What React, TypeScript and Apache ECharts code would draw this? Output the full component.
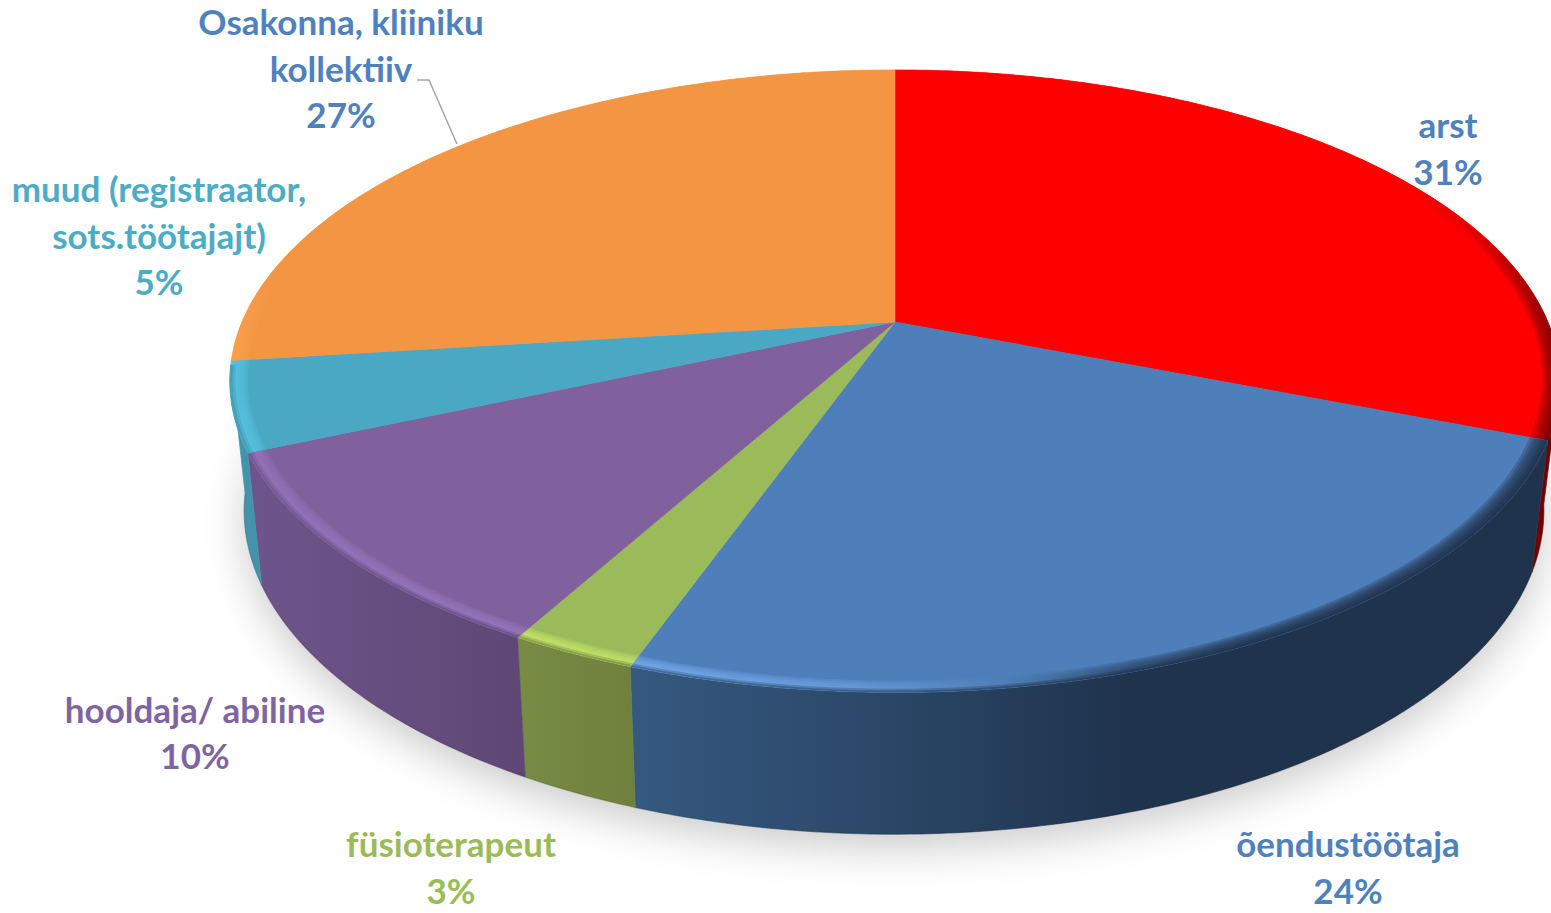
import React, { useEffect, useRef } from "react";
import * as echarts from "echarts";

// Data
const categories = ["arst", "õendustöötaja", "füsioterapeut", "hooldaja/ abiline", "muud (registraator,\nsots.töötajajt)", "Osakonna, kliiniku\nkollektiiv"];
const shares = [31, 24.4, 2.6, 10.4, 4.6, 27];

// Styles
const topColors = ["#FF0000", "#4E7FBB", "#9BBA59", "#80619D", "#4AA8C4", "#F49543"];
const labelColors = ["#4F81BD", "#4F81BD", "#9BBB59", "#8064A2", "#4BACC6", "#4F81BD"];
type Stop = [number, string];
const wallStops: (Stop[] | null)[] = [
  [[1500, "#800000"], [1551, "#700000"]],
  [[630, "#35597f"], [900, "#2a4666"], [1130, "#1f334d"], [1551, "#1f334d"]],
  [[525, "#778b43"], [640, "#6f803d"]],
  [[262, "#6d548a"], [530, "#5e4775"]],
  [[230, "#4394aa"], [265, "#4394aa"]],
  null,
];
const rimStops: Stop[][] = [
  [[1400, "#FF0000"], [1480, "#d80000"], [1551, "#800000"]],
  [[630, "#76adf0"], [850, "#6a9ede"], [1000, "#4f80b8"], [1130, "#2a4668"], [1220, "#1f334d"], [1551, "#1f334d"]],
  [[520, "#c6e86a"], [640, "#c2e468"]],
  [[250, "#9475bc"], [530, "#9878c2"]],
  [[230, "#55c4e2"], [265, "#55c2e0"]],
  [[232, "#FBA04E"], [275, "#F49543"], [1551, "#F49543"]],
];
const labelAnchors: [number, number][] = [[1448, 147.5], [1348, 866.5], [451, 866.5], [195, 732], [159, 234.5], [341, 67.5]];

// Projection of the pie disc
const CX = 895, CY = 322, A = 653, B = 300, K = -0.19;
const CX2 = 894, A2 = 638, B2 = 312, CY2 = 449;
const total = shares.reduce((a, b) => a + b, 0);
const starts: number[] = [];
shares.reduce((acc, v, i) => { starts[i] = acc; return acc + v; }, 0);

function top(theta: number, r = 1): number[] {
  const u = Math.sin(theta) * r, v = -Math.cos(theta) * r, w = 1 + K * v;
  return [CX + (A * u) / w, CY + (B * v) / w];
}
function bottom(theta: number): number[] {
  const u = Math.sin(theta), v = -Math.cos(theta), w = 1 + K * v;
  return [CX2 + (A2 * u) / w, CY2 + (B2 * v) / w];
}
function arc(fn: (t: number) => number[], a: number, b: number): number[][] {
  const n = Math.max(2, Math.ceil(Math.abs(b - a) / 0.012));
  const out: number[][] = [];
  for (let i = 0; i <= n; i++) out.push(fn(a + ((b - a) * i) / n));
  return out;
}
function range(i: number): [number, number] {
  const s = (starts[i] / total) * Math.PI * 2;
  return [s, s + (shares[i] / total) * Math.PI * 2];
}
function grad(stops: Stop[]) {
  const x0 = stops[0][0], x1 = stops[stops.length - 1][0];
  return new echarts.graphic.LinearGradient(
    x0, 0, x1, 0,
    stops.map(([x, color]) => ({ offset: (x - x0) / (x1 - x0), color })),
    true
  );
}
const VIS_A = (100 / 180) * Math.PI, VIS_B = (262 / 180) * Math.PI;

const seriesData = shares.map((value, i) => ({ name: categories[i], value }));

const option: any = {
  animation: false,
  backgroundColor: "#ffffff",
  series: [
    {
      type: "custom", coordinateSystem: "none", silent: true, data: [1],
      renderItem: () => ({
        type: "polygon",
        shape: { points: arc(bottom, 0, Math.PI * 2) },
        style: { fill: "#dddddd", shadowBlur: 40, shadowColor: "rgba(0,0,0,0.2)", shadowOffsetX: 0, shadowOffsetY: 14 },
      }),
    },
    {
      type: "custom", coordinateSystem: "none", silent: true, data: seriesData,
      renderItem: (p: any) => {
        const stops = wallStops[p.dataIndex];
        if (!stops) return null;
        const [s, e] = range(p.dataIndex);
        const a = Math.max(s, VIS_A), b = Math.min(e, VIS_B);
        const upper = arc((t) => top(t), a, b);
        const lower = arc(bottom, a, b).reverse();
        const fill = grad(stops);
        return {
          type: "group",
          children: [
            { type: "polygon", shape: { points: upper.concat(lower) }, style: { fill, stroke: fill, lineWidth: 0.6 } },
            { type: "polyline", shape: { points: lower }, style: { fill: "none", stroke: "rgba(0,0,0,0.1)", lineWidth: 1.5 } },
          ],
        };
      },
    },
    {
      type: "custom", coordinateSystem: "none", silent: true, data: seriesData,
      renderItem: (p: any) => {
        const i = p.dataIndex;
        const [s, e] = range(i);
        const outer = arc((t) => top(t), s, e);
        const children: any[] = [
          { type: "polygon", shape: { points: [[CX, CY], ...outer] }, style: { fill: topColors[i], stroke: topColors[i], lineWidth: 0.6 } },
        ];
        const rim = grad(rimStops[i]);
        for (const f of [0.974, 0.978, 0.982, 0.986, 0.99]) {
          const inner = arc((t) => top(t, f), s, e).reverse();
          children.push({ type: "polygon", shape: { points: outer.concat(inner) }, style: { fill: rim, opacity: 0.3 } });
        }
        const ws = wallStops[i];
        if (ws) {
          const a = Math.max(s, VIS_A), b = Math.min(e, VIS_B);
          const visible = arc((t) => top(t), a, b);
          for (const [f, o] of [[0.992, 0.35], [0.996, 0.55]]) {
            const inner = arc((t) => top(t, f), a, b).reverse();
            children.push({ type: "polygon", shape: { points: visible.concat(inner) }, style: { fill: grad(ws), opacity: o } });
          }
        }
        return { type: "group", children };
      },
    },
    {
      type: "custom", coordinateSystem: "none", silent: true, data: seriesData,
      renderItem: (p: any, api: any) => {
        const i = p.dataIndex;
        const pct = Math.round((api.value(0) / total) * 100);
        const [x, y] = labelAnchors[i];
        const children: any[] = [
          {
            type: "text",
            style: {
              text: `${categories[i]}\n${pct}%`,
              x, y,
              align: "center",
              verticalAlign: "middle",
              fill: labelColors[i],
              font: "700 35px Lato",
              lineHeight: 46.5,
            },
          },
        ];
        if (i === 5) {
          children.push({
            type: "polyline",
            shape: { points: [[417, 80], [429, 80], [457, 144]] },
            style: { fill: "none", stroke: "#a6a6a6", lineWidth: 1.5 },
          });
        }
        return { type: "group", children };
      },
    },
  ],
};

export default function App() {
  const ref = useRef<HTMLDivElement>(null);
  useEffect(() => {
    document.body.style.margin = "0";
    document.body.style.overflow = "hidden";
    const chart = echarts.init(ref.current!, null, { renderer: "svg" });
    chart.setOption(option);
    return () => chart.dispose();
  }, []);
  return <div ref={ref} style={{ width: 1551, height: 913 }} />;
}
